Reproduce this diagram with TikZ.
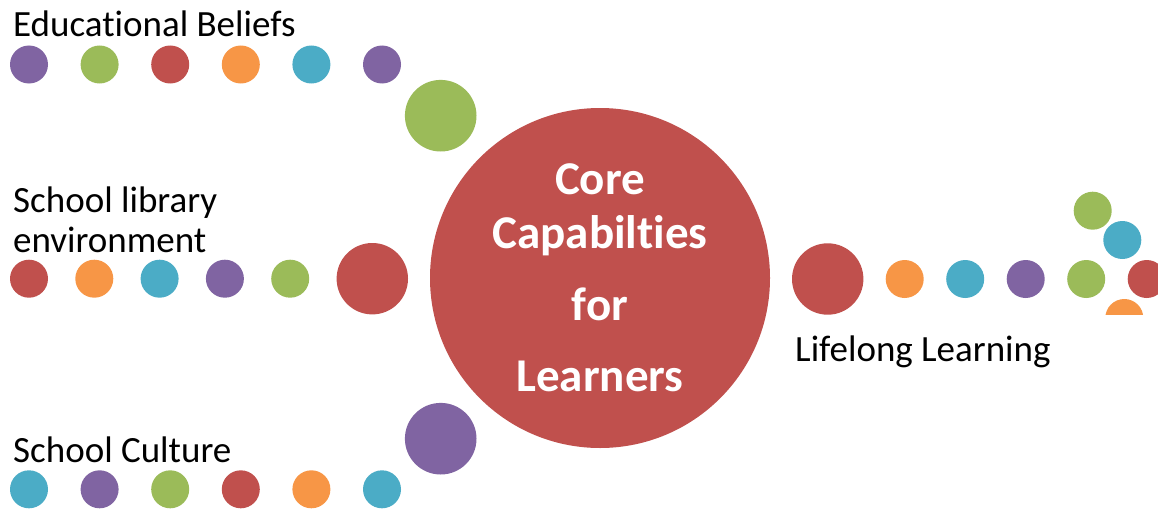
\documentclass[tikz,border=0pt]{standalone}
\usepackage{fontspec}
\setmainfont{Carlito}[Ligatures=NoCommon]
\usetikzlibrary{positioning}

\definecolor{dotpurple}{HTML}{8064A2}
\definecolor{dotgreen}{HTML}{9BBB59}
\definecolor{dotred}{HTML}{C0504D}
\definecolor{dotorange}{HTML}{F79646}
\definecolor{dotcyan}{HTML}{4BACC6}

\begin{document}
\begin{tikzpicture}[
    x=1pt, y=-1pt,
    lbl/.style={font=\fontsize{37}{40}\selectfont, inner sep=0pt, anchor=base west, align=left}, % side labels
    core/.style={circle, fill=dotred, minimum size=340pt, inner sep=0pt, text=white,
                 font=\fontsize{47}{54}\selectfont\bfseries, align=center} % central circle
]
    \useasboundingbox (0,0) rectangle (1158,511);

    % 1. central circle
    \node[core] (core) at (600,278) {Core\\Capabilties\\[18pt]for\\[17pt]Learners};

    % 2. labels
    \node[lbl] (beliefs) at (13,37) {Educational Beliefs};
    \node[lbl] (library) at (13,252.7) {School library\\environment};
    \node[lbl] (culture) at (13,462.7) {School Culture};
    \node[lbl] (lifelong) at (795,361.7) {Lifelong Learning};

    % 3. dot rows on the left
    \foreach \i/\c in {0/dotpurple,1/dotgreen,2/dotred,3/dotorange,4/dotcyan,5/dotpurple}
        \fill[\c] (29+70.6*\i, 64.5) circle (19);
    \fill[dotgreen] (440.7,115.7) circle (35.8);

    \foreach \i/\c in {0/dotred,1/dotorange,2/dotcyan,3/dotpurple,4/dotgreen}
        \fill[\c] (29+65.3*\i, 278.7) circle (19);
    \fill[dotred] (372.3,278.7) circle (35.7);

    \foreach \i/\c in {0/dotcyan,1/dotpurple,2/dotgreen,3/dotred,4/dotorange,5/dotcyan}
        \fill[\c] (29+70.6*\i, 489.3) circle (19);
    \fill[dotpurple] (440.7,438.7) circle (35.8);

    % 4. dot row on the right
    \fill[dotred] (827.7,279) circle (35.7);
    \foreach \i/\c in {0/dotorange,1/dotcyan,2/dotpurple,3/dotgreen}
        \fill[\c] (904.7+60.5*\i, 279) circle (19);
    \begin{scope}
        \clip (1060,150) rectangle (1158,314.3);
        \fill[dotred] (1146.7,279) circle (19);
        \fill[dotgreen] (1092.7,210.7) circle (19);
        \fill[dotcyan] (1122.3,240) circle (19);
        \fill[dotorange] (1124.3,318) circle (19);
    \end{scope}
\end{tikzpicture}
\end{document}
